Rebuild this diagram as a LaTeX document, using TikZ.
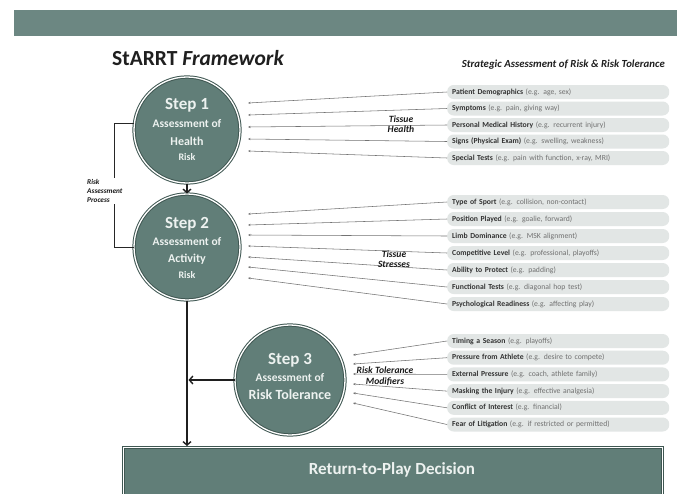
\documentclass[tikz,border=0pt]{standalone}
\usepackage{fontspec}
\setmainfont{Carlito}
\usetikzlibrary{arrows.meta,calc}
\definecolor{tealfill}{HTML}{617E78}
\definecolor{tealdark}{HTML}{3F5752}
\definecolor{bannerc}{HTML}{6C8782}
\definecolor{pillc}{HTML}{E2E6E5}
\definecolor{txtb}{HTML}{333333}
\definecolor{txtn}{HTML}{707070}
\definecolor{circtxt}{HTML}{EDF2F0}
\newcommand\pilltxt[2]{{\bfseries\color{txtb}#1} #2}
\begin{document}
\begin{tikzpicture}[x=1pt,y=-1pt,
  stepc/.style={circle, minimum size=#1, inner sep=0pt, fill=tealfill, draw=tealdark, line width=1pt, double=white, double distance=1.3pt},
  pill/.style={rounded corners=6.5pt, text width=212pt, minimum height=14pt, inner ysep=0pt, inner xsep=5pt, align=left, fill=pillc, anchor=west, font=\fontsize{7.7}{8.5}\selectfont, text=txtn},
  feed/.style={draw=black!55, line width=0.55pt, -{Stealth[length=2.6pt,width=2.2pt]}},
  flow/.style={draw=black!88, line width=1.4pt, -{Straight Barb[length=3.5pt,width=8pt]}},
  brk/.style={draw=black!85, line width=0.9pt},
  lab/.style={font=\bfseries\itshape\fontsize{9.6}{10.5}\selectfont, text=black!90, align=center, inner sep=0pt},
  ctxt/.style={text=circtxt, inner sep=0pt, font=\bfseries\fontsize{#1}{#1}\selectfont}
]
\useasboundingbox (0,0) rectangle (677,493);
\fill[white] (0,0) rectangle (677,493);
% banner
\node[fill=bannerc, minimum width=663pt, minimum height=26pt, inner sep=0pt, anchor=north west] (banner) at (14,10) {};
% titles
\node[anchor=west, inner sep=0pt, text=black!88, font=\bfseries\fontsize{21.5}{22}\selectfont] (title) at (112,58) {StARRT \textit{Framework}};
\node[anchor=east, inner sep=0pt, text=black!88, font=\bfseries\itshape\fontsize{10.8}{11}\selectfont] (sub) at (665,65) {Strategic Assessment of Risk \& Risk Tolerance};

% circles
\node[stepc=106pt] (s1) at (187,130) {};
\node[stepc=106pt] (s2) at (187,247) {};
\node[stepc=110pt] (s3) at (290,380) {};
\node[ctxt=17] (s1a) at (187,105) {Step 1};
\node[ctxt=11.5] (s1b) at (187,124) {Assessment of};
\node[ctxt=12] (s1c) at (187,141) {Health};
\node[ctxt=10] (s1d) at (187,157) {Risk};
\node[ctxt=17] (s2a) at (187,224) {Step 2};
\node[ctxt=11.5] (s2b) at (187,242) {Assessment of};
\node[ctxt=12] (s2c) at (187,259) {Activity};
\node[ctxt=10] (s2d) at (187,275) {Risk};
\node[ctxt=17] (s3a) at (290,360) {Step 3};
\node[ctxt=11.5] (s3b) at (290,378) {Assessment of};
\node[ctxt=14] (s3c) at (290,395) {Risk Tolerance};

% return-to-play box
\node[fill=tealfill, draw=tealdark, line width=1pt, double=white, double distance=1.3pt, minimum width=539pt, minimum height=52pt, inner sep=0pt, anchor=north west] (rtp) at (123,447) {};
\node[text=circtxt, inner sep=0pt, font=\bfseries\fontsize{17}{18}\selectfont] (rtpt) at (392,470) {Return-to-Play Decision};

% flow arrows
\coordinate (j3) at (188.5,380);
\coordinate (rin) at (187,446);
\draw[flow] (s1.south) -- (s2.north);
\draw[flow] (s2.south) -- (rin);
\draw[flow] (s3.west) -- (j3);

% bracket
\draw[brk] (s1.173) -- ++(-19,0) |- (s2.west);
\node[anchor=west, fill=white, inner sep=1pt, align=left, text=black!90, font=\bfseries\itshape\fontsize{7.3}{9.3}\selectfont] (rap) at (86,191) {Risk\\Assessment\\Process};

% group 1 pills
\node[pill] (p1a) at (447,92) {\pilltxt{Patient Demographics}{(e.g. age, sex)}};
\node[pill] (p1b) at (447,108.5) {\pilltxt{Symptoms}{(e.g. pain, giving way)}};
\node[pill] (p1c) at (447,125) {\pilltxt{Personal Medical History}{(e.g. recurrent injury)}};
\node[pill] (p1d) at (447,141.5) {\pilltxt{Signs (Physical Exam)}{(e.g. swelling, weakness)}};
\node[pill] (p1e) at (447,158) {\pilltxt{Special Tests}{(e.g. pain with function, x-ray, MRI)}};
% group 2 pills
\node[pill] (p2a) at (447,202) {\pilltxt{Type of Sport}{(e.g. collision, non-contact)}};
\node[pill] (p2b) at (447,219) {\pilltxt{Position Played}{(e.g. goalie, forward)}};
\node[pill] (p2c) at (447,236) {\pilltxt{Limb Dominance}{(e.g. MSK alignment)}};
\node[pill] (p2d) at (447,253) {\pilltxt{Competitive Level}{(e.g. professional, playoffs)}};
\node[pill] (p2e) at (447,270) {\pilltxt{Ability to Protect}{(e.g. padding)}};
\node[pill] (p2f) at (447,287) {\pilltxt{Functional Tests}{(e.g. diagonal hop test)}};
\node[pill] (p2g) at (447,304) {\pilltxt{Psychological Readiness}{(e.g. affecting play)}};
% group 3 pills
\node[pill] (p3a) at (447,341) {\pilltxt{Timing a Season}{(e.g. playoffs)}};
\node[pill] (p3b) at (447,357.7) {\pilltxt{Pressure from Athlete}{(e.g. desire to compete)}};
\node[pill] (p3c) at (447,374.4) {\pilltxt{External Pressure}{(e.g. coach, athlete family)}};
\node[pill] (p3d) at (447,391.1) {\pilltxt{Masking the Injury}{(e.g. effective analgesia)}};
\node[pill] (p3e) at (447,407.8) {\pilltxt{Conflict of Interest}{(e.g. financial)}};
\node[pill] (p3f) at (447,424.5) {\pilltxt{Fear of Litigation}{(e.g. if restricted or permitted)}};

% end points on circles
\coordinate (e1a) at (248,103);
\coordinate (e1b) at (248,115);
\coordinate (e1c) at (248,127);
\coordinate (e1d) at (248,139);
\coordinate (e1e) at (248,151);
\coordinate (e2a) at (248,214);
\coordinate (e2b) at (248,225);
\coordinate (e2c) at (248,235);
\coordinate (e2d) at (248,246);
\coordinate (e2e) at (248,257);
\coordinate (e2f) at (248,267);
\coordinate (e2g) at (248,278);
\coordinate (e3a) at (353,355);
\coordinate (e3b) at (353,364);
\coordinate (e3c) at (353,374);
\coordinate (e3d) at (353,384);
\coordinate (e3e) at (353,393);
\coordinate (e3f) at (353,403);

\foreach \g/\r in {1/a,1/b,1/c,1/d,1/e,2/a,2/b,2/c,2/d,2/e,2/f,2/g,3/a,3/b,3/c,3/d,3/e,3/f}{
  \draw[feed] (p\g\r.west) -- (e\g\r);
}

% group labels
\node[lab] (l1) at (401,124) {Tissue\\Health};
\node[lab] (l2) at (394,259) {Tissue\\Stresses};
\node[lab] (l3) at (385,376) {Risk Tolerance\\Modifiers};
\end{tikzpicture}
\end{document}
